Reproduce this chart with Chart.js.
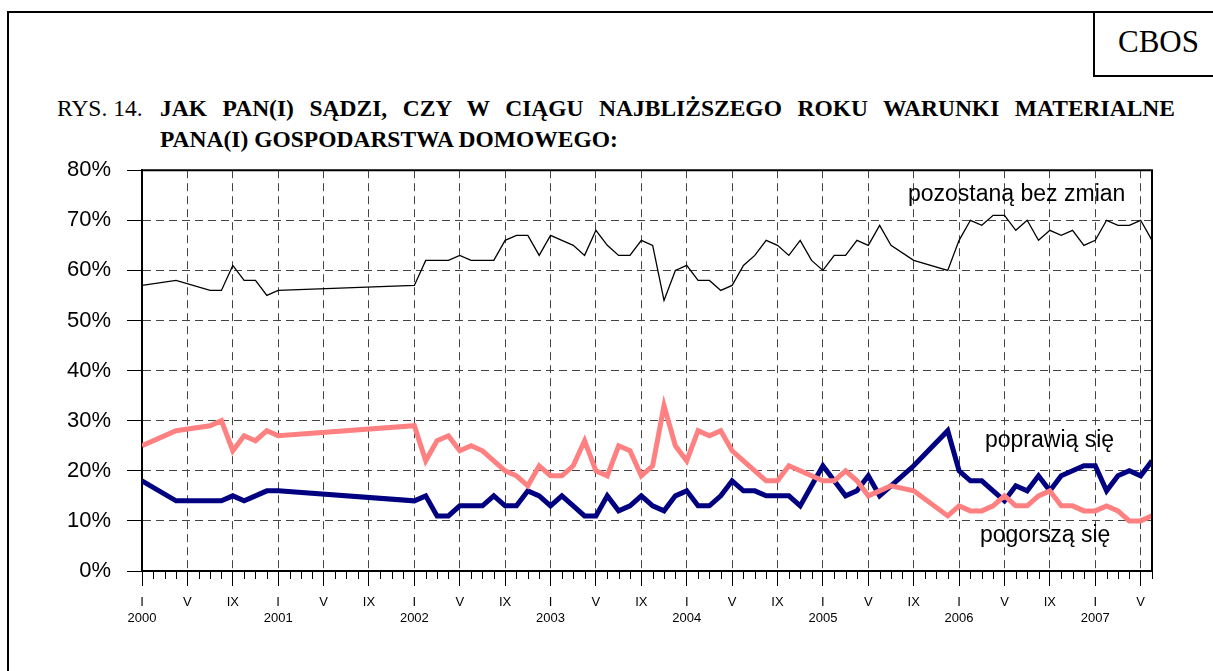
<title>RYS. 14 - CBOS</title>
<script src="https://cdn.jsdelivr.net/npm/chart.js@4.4.0/dist/chart.umd.min.js"></script>

<style>
  body{
    margin: 0;
    width: 1213px;
    height: 671px;
    overflow: hidden;
    background: #fff;
    position: relative;
  }
  #frame{
    position: absolute;
    left: 7px;
    top: 11px;
    width: 1300px;
    height: 800px;
    border-left: 2px solid #000;
    border-top: 2px solid #000;
  }
  #cbos{
    position: absolute;
    left: 1093px;
    top: 11px;
    width: 200px;
    height: 64px;
    border-left: 2px solid #000;
    border-bottom: 2px solid #000;
    font-family: "Liberation Serif", serif;
    font-size: 31px;
  }
  #cbos span{
    position: absolute;
    left: 23px;
    top: 13px;
  }
  .title{
    position: absolute;
    font-family: "Liberation Serif", serif;
    font-size: 23.5px;
    line-height: 26px;
    white-space: nowrap;
  }
  #rys{ left: 57px; top: 95px; }
  #line1{
    left: 160px;
    top: 95px;
    width: 1015px;
    font-weight: bold;
    text-align: justify;
    text-align-last: justify;
  }
  #line2{
    left: 160px;
    top: 126px;
    font-weight: bold;
  }
  .serie{
    position: absolute;
    font-family: "Liberation Sans", Arial, sans-serif;
    font-size: 23px;
    line-height: 26px;
  }
  #wrap{
    position: absolute;
    left: 0;
    top: 141px;
    width: 1213px;
    height: 520px;
  }
</style>

<div id="frame"></div>
<div id="cbos"><span>CBOS</span></div>
<div class="title" id="rys">RYS. 14.</div>
<div class="title" id="line1">JAK PAN(I) SĄDZI, CZY W CIĄGU NAJBLIŻSZEGO ROKU WARUNKI MATERIALNE</div>
<div class="title" id="line2">PANA(I) GOSPODARSTWA DOMOWEGO:</div>

<div id="wrap"><canvas id="chart" width="1213" height="520"></canvas></div>

<div class="serie" style="left:908px; top:180px;">pozostaną bez zmian</div>
<div class="serie" style="left:985px; top:426px;">poprawią się</div>
<div class="serie" style="left:980px; top:521px;">pogorszą się</div>

<script>
// months counted from I 2000 (0) to VI 2007 (89)
const months = [0, 3, 6, 7, 8, 9, 10, 11, 12,
  24, 25, 26, 27, 28, 29, 30, 31, 32, 33, 34, 35,
  36, 37, 38, 39, 40, 41, 42, 43, 44, 45, 46, 47,
  48, 49, 50, 51, 52, 53, 54, 55, 56, 57, 58, 59,
  60, 61, 62, 63, 64, 65, 66, 68, 71,
  72, 73, 74, 75, 76, 77, 78, 79, 80, 81, 82, 83,
  84, 85, 86, 87, 88, 89];

const bezZmian = [57, 58, 56, 56, 61, 58, 58, 55, 56,
  57, 62, 62, 62, 63, 62, 62, 62, 66, 67, 67, 63,
  67, 66, 65, 63, 68, 65, 63, 63, 66, 65, 54, 60,
  61, 58, 58, 56, 57, 61, 63, 66, 65, 63, 66, 62,
  60, 63, 63, 66, 65, 69, 65, 62, 60,
  66, 70, 69, 71, 71, 68, 70, 66, 68, 67, 68, 65,
  66, 70, 69, 69, 70, 66];

const poprawia = [18, 14, 14, 14, 15, 14, 15, 16, 16,
  14, 15, 11, 11, 13, 13, 13, 15, 13, 13, 16, 15,
  13, 15, 13, 11, 11, 15, 12, 13, 15, 13, 12, 15,
  16, 13, 13, 15, 18, 16, 16, 15, 15, 15, 13, 17,
  21, 18, 15, 16, 19, 15, 17, 21, 28,
  20, 18, 18, 16, 14, 17, 16, 19, 16, 19, 20, 21,
  21, 16, 19, 20, 19, 22];

const pogorsza = [25, 28, 29, 30, 24, 27, 26, 28, 27,
  29, 22, 26, 27, 24, 25, 24, 22, 20, 19, 17, 21,
  19, 19, 21, 26, 20, 19, 25, 24, 19, 21, 33, 25,
  22, 28, 27, 28, 24, 22, 20, 18, 18, 21, 20, 19,
  18, 18, 20, 18, 15, 16, 17, 16, 11,
  13, 12, 12, 13, 15, 13, 13, 15, 16, 13, 13, 12,
  12, 13, 12, 10, 10, 11];

const monthNames = ["I", "", "", "", "V", "", "", "", "IX", "", "", ""];
const firstYear = 2000;
const lastMonth = 89;

const font = "'Liberation Sans', Arial, sans-serif";

function points(values) {
  return months.map((m, i) => ({ x: m, y: values[i] }));
}

function isMajor(v) {
  return v % 4 === 0;
}

// short ticks for every month, plus solid top and right edge of the plot
const framePlugin = {
  id: "frame",
  afterDraw(chart) {
    const ctx = chart.ctx;
    const x = chart.scales.x;
    const area = chart.chartArea;
    ctx.save();
    ctx.strokeStyle = "#000";
    ctx.lineWidth = 1;
    ctx.beginPath();
    for (let m = 0; m <= lastMonth; m++) {
      if (isMajor(m)) continue;
      const px = Math.round(x.getPixelForValue(m)) + 0.5;
      ctx.moveTo(px, area.bottom);
      ctx.lineTo(px, area.bottom + 8);
    }
    ctx.stroke();
    ctx.lineWidth = 2;
    ctx.beginPath();
    ctx.moveTo(area.left, area.top);
    ctx.lineTo(area.right, area.top);
    ctx.lineTo(area.right, area.bottom);
    ctx.stroke();
    ctx.restore();
  }
};

const ctx = document.getElementById("chart").getContext("2d");

const chart = new Chart(ctx, {
  type: "line",
  data: {
    datasets: [
      {
        label: "pogorszą się",
        data: points(pogorsza),
        borderColor: "#ff8080",
        borderWidth: 5,
        pointRadius: 0,
        tension: 0
      },
      {
        label: "poprawią się",
        data: points(poprawia),
        borderColor: "#000080",
        borderWidth: 5,
        pointRadius: 0,
        tension: 0
      },
      {
        label: "pozostaną bez zmian",
        data: points(bezZmian),
        borderColor: "#000",
        borderWidth: 1.3,
        pointRadius: 0,
        tension: 0
      }
    ]
  },
  options: {
    responsive: false,
    animation: false,
    events: [],
    layout: { padding: { top: 10, right: 61, bottom: 0, left: 0 } },
    plugins: {
      legend: { display: false },
      tooltip: { enabled: false }
    },
    scales: {
      x: {
        type: "linear",
        min: 0,
        max: lastMonth,
        afterBuildTicks: (scale) => {
          const t = [];
          for (let m = 0; m <= lastMonth; m++) t.push({ value: m });
          scale.ticks = t;
        },
        afterFit: (scale) => { scale.height = 90; },
        grid: {
          color: (c) => (c.tick && isMajor(c.tick.value) ? "#444" : "rgba(0,0,0,0)"),
          tickColor: (c) => (c.tick && isMajor(c.tick.value) ? "#000" : "rgba(0,0,0,0)"),
          tickLength: 15,
          lineWidth: 1
        },
        border: { color: "#000", width: 2, dash: [8, 5] },
        ticks: {
          autoSkip: false,
          maxRotation: 0,
          padding: 8,
          color: "#000",
          font: { family: font, size: 13, lineHeight: 1.25 },
          callback: (v) => {
            const name = monthNames[v % 12];
            if (v % 12 === 0) return [name, String(firstYear + v / 12)];
            return name;
          }
        }
      },
      y: {
        min: 0,
        max: 80,
        afterFit: (scale) => { scale.width = 142; },
        grid: {
          color: "#444",
          tickColor: "#000",
          tickLength: 15,
          lineWidth: 1
        },
        border: { color: "#000", width: 2, dash: [8, 5] },
        ticks: {
          stepSize: 10,
          padding: 16,
          color: "#000",
          font: { family: font, size: 22 },
          callback: (v) => v + "%"
        }
      }
    }
  },
  plugins: [framePlugin]
});
</script>
